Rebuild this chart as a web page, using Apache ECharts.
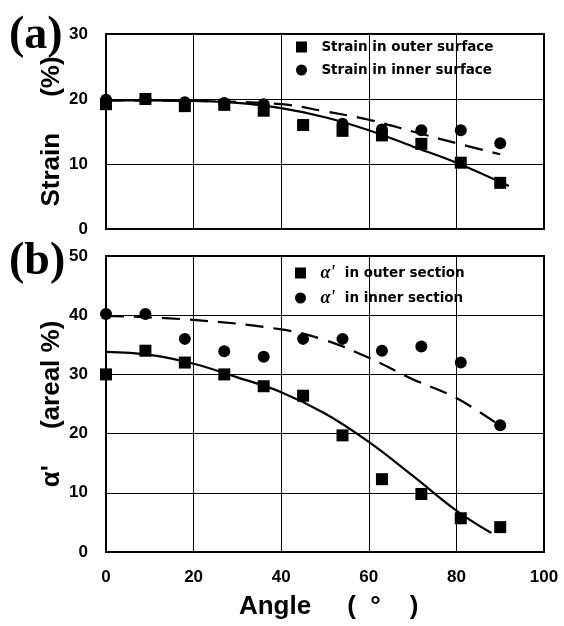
<!DOCTYPE html>
<html>
<head>
<meta charset="utf-8">
<script src="https://cdn.jsdelivr.net/npm/echarts@6/dist/echarts.min.js"></script>
<style>
html,body{margin:0;padding:0;background:#fff;}
#c{width:564px;height:626px;}
</style>
</head>
<body>
<div id="c"></div>
<script>
// ---- data ----
const angles = [0, 9, 18, 27, 36, 45, 54, 63, 72, 81, 90];

// (a) strain (%)
const strainOuter = [19.2, 20.0, 18.9, 19.1, 18.2, 16.0, 15.1, 14.4, 13.1, 10.2, 7.1];
const strainInner = [19.9, 20.0, 19.5, 19.4, 19.2, 16.0, 16.2, 15.3, 15.2, 15.2, 13.2];
// fitted curves (a)
const fitStrainOuter = [[0,19.8],[10,19.8],[20,19.7],[30,19.4],[40,18.6],[50,17.2],[60,15.2],[70,12.7],[80,10.2],[92,6.6]];
const fitStrainInner = [[0,19.8],[20,19.7],[40,19.2],[50,18.1],[60,16.8],[70,15.0],[80,13.2],[90,11.5]];

// (b) alpha' (areal %)
const alphaOuter = [30.0, 34.0, 32.0, 30.0, 28.0, 26.4, 19.7, 12.3, 9.8, 5.7, 4.2];
const alphaInner = [40.2, 40.2, 36.0, 33.9, 33.0, 36.0, 36.0, 34.0, 34.7, 32.0, 21.4];
// fitted curves (b)
const fitAlphaOuter = [[0,33.8],[10,33.3],[20,31.8],[30,29.5],[40,27.0],[50,23.4],[60,18.6],[70,12.9],[80,7.0],[88,3.2]];
const fitAlphaInner = [[0,39.9],[20,39.2],[40,37.6],[50,35.8],[60,32.8],[70,29.2],[80,26.0],[90,21.3]];

const xTicks = [0, 20, 40, 60, 80, 100];

const legendA = ['Strain in outer surface', 'Strain in inner surface'];
const legendB = ["α' in outer section", "α' in inner section"];

// ---- chart ----
const pair = (xs, ys) => xs.map((x, i) => [x, ys[i]]);
const tickFont = {fontFamily: 'Liberation Sans', fontWeight: 'bold', fontSize: 17, color: '#000'};
const nameFont = {fontFamily: 'Liberation Sans', fontWeight: 'bold', fontSize: 26, color: '#000'};
const grid = {show: true, borderColor: '#000', borderWidth: 2};
const split = {show: true, lineStyle: {color: '#000', width: 1}};
const legendText = {fontFamily: 'DejaVu Sans', fontWeight: 'bold', fontSize: 13.5, color: '#000'};

const chart = echarts.init(document.getElementById('c'), null, {renderer: 'canvas'});
chart.setOption({
  backgroundColor: '#fff',
  animation: false,
  title: [
    {text: '(a)', left: 4, top: 8, textStyle: {fontFamily: 'Liberation Serif', fontWeight: 'bold', fontSize: 46, color: '#000'}},
    {text: '(b)', left: 4, top: 234, textStyle: {fontFamily: 'Liberation Serif', fontWeight: 'bold', fontSize: 46, color: '#000'}}
  ],
  legend: [
    {data: legendA, orient: 'vertical', left: 291, top: 35, itemWidth: 11, itemHeight: 11, itemGap: 9,
     formatter: n => '  ' + n, textStyle: legendText},
    {data: legendB, orient: 'vertical', left: 290, top: 259, itemWidth: 11, itemHeight: 11, itemGap: 7,
     formatter: n => '  {a|α\'}  ' + n.slice(3),
     textStyle: Object.assign({rich: {a: {fontFamily: 'Liberation Serif', fontStyle: 'italic', fontWeight: 'bold', fontSize: 18, color: '#000'}}}, legendText)}
  ],
  grid: [
    Object.assign({left: 106, top: 34, right: 20, height: 195}, grid),
    Object.assign({left: 106, top: 256, right: 20, height: 296}, grid)
  ],
  xAxis: [
    {gridIndex: 0, type: 'value', min: 0, max: 100, interval: 20,
     axisLine: {show: true, lineStyle: {color: '#000', width: 2}}, axisTick: {show: false},
     axisLabel: {show: false}, splitLine: split},
    {gridIndex: 1, type: 'value', min: 0, max: 100, interval: 20,
     axisLine: {show: true, lineStyle: {color: '#000', width: 2}}, axisTick: {show: false},
     axisLabel: Object.assign({margin: 17, formatter: v => xTicks.includes(v) ? String(v) : ''}, tickFont),
     splitLine: split,
     name: ' Angle     (  °    )', nameLocation: 'middle', nameGap: 42, nameTextStyle: nameFont}
  ],
  yAxis: [
    {gridIndex: 0, type: 'value', min: 0, max: 30, interval: 10,
     axisLine: {show: true, lineStyle: {color: '#000', width: 2}}, axisTick: {show: false},
     axisLabel: Object.assign({margin: 18}, tickFont), splitLine: split,
     name: 'Strain     (%)', nameLocation: 'middle', nameGap: 41, nameMoveOverlap: false, nameTextStyle: nameFont},
    {gridIndex: 1, type: 'value', min: 0, max: 50, interval: 10,
     axisLine: {show: true, lineStyle: {color: '#000', width: 2}}, axisTick: {show: false},
     axisLabel: Object.assign({margin: 18}, tickFont), splitLine: split,
     name: "α'     (areal %)", nameLocation: 'middle', nameGap: 41, nameMoveOverlap: false, nameTextStyle: nameFont}
  ],
  series: [
    {name: 'fitA1', type: 'line', xAxisIndex: 0, yAxisIndex: 0, data: fitStrainOuter, smooth: 0.4, symbol: 'none',
     lineStyle: {color: '#000', width: 2.2}, z: 2},
    {name: 'fitA2', type: 'line', xAxisIndex: 0, yAxisIndex: 0, data: fitStrainInner, smooth: 0.4, symbol: 'none',
     lineStyle: {color: '#000', width: 2.2, type: [18, 10]}, z: 2},
    {name: legendA[0], type: 'scatter', xAxisIndex: 0, yAxisIndex: 0, data: pair(angles, strainOuter),
     symbol: 'rect', symbolSize: 12, itemStyle: {color: '#000', opacity: 1}, z: 3},
    {name: legendA[1], type: 'scatter', xAxisIndex: 0, yAxisIndex: 0, data: pair(angles, strainInner),
     symbol: 'circle', symbolSize: 12, itemStyle: {color: '#000', opacity: 1}, z: 3},
    {name: 'fitB1', type: 'line', xAxisIndex: 1, yAxisIndex: 1, data: fitAlphaOuter, smooth: 0.4, symbol: 'none',
     lineStyle: {color: '#000', width: 2.2}, z: 2},
    {name: 'fitB2', type: 'line', xAxisIndex: 1, yAxisIndex: 1, data: fitAlphaInner, smooth: 0.4, symbol: 'none',
     lineStyle: {color: '#000', width: 2.2, type: [18, 10]}, z: 2},
    {name: legendB[0], type: 'scatter', xAxisIndex: 1, yAxisIndex: 1, data: pair(angles, alphaOuter),
     symbol: 'rect', symbolSize: 12, itemStyle: {color: '#000', opacity: 1}, z: 3},
    {name: legendB[1], type: 'scatter', xAxisIndex: 1, yAxisIndex: 1, data: pair(angles, alphaInner),
     symbol: 'circle', symbolSize: 12, itemStyle: {color: '#000', opacity: 1}, z: 3}
  ]
});
</script>
</body>
</html>
